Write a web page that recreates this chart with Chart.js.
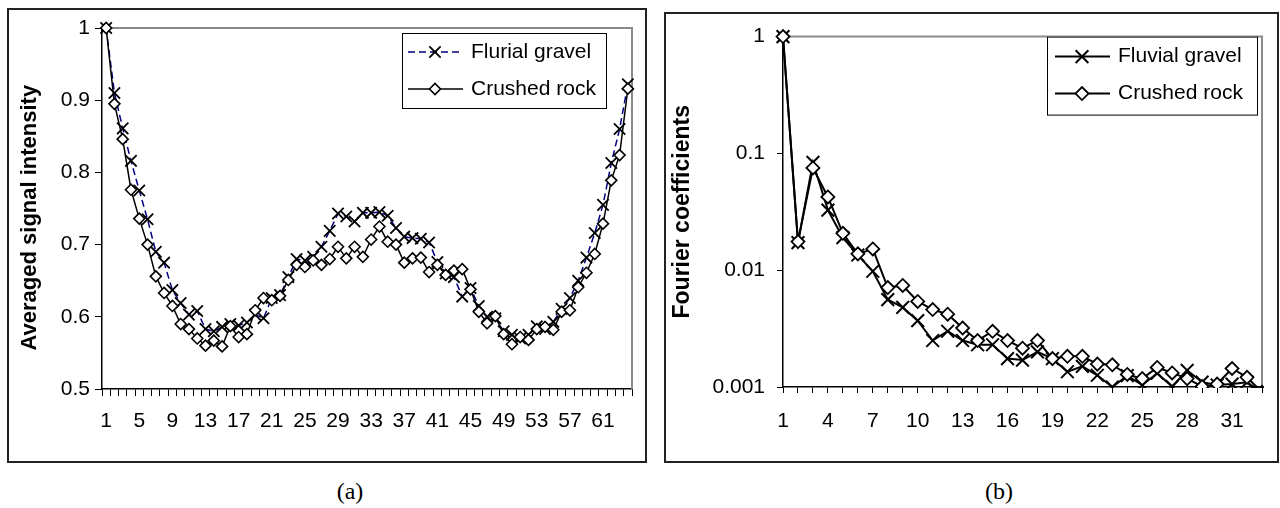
<!DOCTYPE html>
<html>
<head>
<meta charset="utf-8">
<title>Averaged signal intensity and Fourier coefficients</title>
<script src="https://cdn.jsdelivr.net/npm/chart.js@4.4.0/dist/chart.umd.min.js"></script>
<style>
  html, body { margin: 0; padding: 0; background: #fff; }
  body { width: 1280px; height: 508px; position: relative; overflow: hidden; }
  .frame { position: absolute; border: 2px solid #222; box-sizing: border-box; }
  .holder { position: absolute; }
  .caption { position: absolute; font-family: 'Liberation Serif', 'Times New Roman', serif; font-size: 24px; color: #000; transform: translateX(-50%); }
</style>
</head>
<body>
<div class="frame" style="left:7px;top:8px;width:640px;height:455px;"></div>
<div class="holder" style="left:7px;top:8px;width:638px;height:454px;"><canvas id="chartA"></canvas></div>
<div class="caption" style="left:350px;top:478px;">(a)</div>

<div class="frame" style="left:664px;top:12px;width:615px;height:451px;"></div>
<div class="holder" style="left:664px;top:12px;width:614px;height:450px;"><canvas id="chartB"></canvas></div>
<div class="caption" style="left:999px;top:478px;">(b)</div>

<script>
'use strict';
//****************************
// DATA
//****************************
// (a) averaged signal intensity, 64 samples
var signalCats = Array.from({ length: 64 }, function (v, i) { return String(i + 1); });
var fluvialSignal = [
  1.000, 0.910, 0.861, 0.816, 0.775, 0.735, 0.690, 0.675, 0.637, 0.619,
  0.603, 0.608, 0.583, 0.580, 0.586, 0.590, 0.588, 0.592, 0.603, 0.598,
  0.626, 0.630, 0.655, 0.680, 0.678, 0.683, 0.697, 0.719, 0.743, 0.739,
  0.732, 0.744, 0.744, 0.745, 0.740, 0.723, 0.711, 0.709, 0.708, 0.703,
  0.676, 0.660, 0.655, 0.628, 0.640, 0.615, 0.600, 0.598, 0.580, 0.575,
  0.570, 0.575, 0.587, 0.583, 0.593, 0.611, 0.626, 0.650, 0.682, 0.716,
  0.755, 0.813, 0.860, 0.922
];
var crushedSignal = [
  1.000, 0.895, 0.846, 0.776, 0.736, 0.700, 0.656, 0.633, 0.615, 0.590,
  0.583, 0.570, 0.560, 0.567, 0.559, 0.587, 0.572, 0.576, 0.609, 0.626,
  0.623, 0.629, 0.651, 0.672, 0.669, 0.678, 0.672, 0.680, 0.697, 0.681,
  0.697, 0.683, 0.707, 0.725, 0.704, 0.700, 0.675, 0.681, 0.682, 0.662,
  0.672, 0.658, 0.664, 0.666, 0.638, 0.607, 0.591, 0.601, 0.576, 0.562,
  0.572, 0.568, 0.583, 0.586, 0.582, 0.607, 0.609, 0.641, 0.661, 0.687,
  0.729, 0.789, 0.824, 0.916
];
var signalTicks = [0.5, 0.6, 0.7, 0.8, 0.9, 1];

// (b) Fourier coefficients, 33 harmonics
var fourierCats = Array.from({ length: 33 }, function (v, i) { return String(i + 1); });
var fluvialFourier = [
  1, 0.0172, 0.0839, 0.0327, 0.0190, 0.0135, 0.0098, 0.0056, 0.0048, 0.0037,
  0.0025, 0.0030, 0.0025, 0.0023, 0.0023, 0.00175, 0.0017, 0.0020, 0.00175, 0.00135,
  0.0015, 0.00126, 0.0010, 0.00125, 0.00104, 0.00131, 0.00101, 0.00139, 0.0011, 0.00104,
  0.00106, 0.0011, 0.0009
];
var crushedFourier = [
  1, 0.0176, 0.0751, 0.0424, 0.0207, 0.0138, 0.0152, 0.0071, 0.0074, 0.0054,
  0.0046, 0.0042, 0.0032, 0.0025, 0.0030, 0.0025, 0.00215, 0.0025, 0.00175, 0.00183,
  0.00183, 0.00157, 0.00155, 0.00128, 0.00118, 0.00147, 0.00132, 0.00118, 0.00101, 0.00106,
  0.00144, 0.00121, 0.0009
];
var fourierTicks = [0.001, 0.01, 0.1, 1];

//****************************
// SETUP
//****************************
Chart.defaults.font.family = "'Liberation Sans', Arial, sans-serif";
Chart.defaults.color = '#000';

// grey frame on top and right of the plot area
var plotFrame = {
  id: 'plotFrame',
  beforeDatasetsDraw: function (chart) {
    var a = chart.chartArea;
    var ctx = chart.ctx;
    ctx.save();
    ctx.strokeStyle = '#8a8a8a';
    ctx.lineWidth = 2;
    ctx.beginPath();
    ctx.moveTo(a.left, a.top);
    ctx.lineTo(a.right, a.top);
    ctx.lineTo(a.right, a.bottom);
    ctx.stroke();
    ctx.restore();
  }
};

// boxed legend sitting inside the plot
var boxLegend = {
  id: 'boxLegend',
  afterDatasetsDraw: function (chart, args, opts) {
    var a = chart.chartArea;
    var ctx = chart.ctx;
    var x = a.right - opts.right - opts.width;
    var y = a.top + opts.top;
    ctx.save();
    ctx.fillStyle = '#fff';
    ctx.fillRect(x, y, opts.width, opts.height);
    ctx.strokeStyle = '#000';
    ctx.lineWidth = 1;
    ctx.strokeRect(x + 0.5, y + 0.5, opts.width, opts.height);
    for (var i = 0; i < opts.items.length; i++) {
      var ds = chart.data.datasets[opts.items[i]];
      var cy = y + opts.rows[i];
      ctx.strokeStyle = ds.borderColor;
      ctx.lineWidth = ds.borderWidth;
      ctx.setLineDash(ds.borderDash || []);
      ctx.beginPath();
      ctx.moveTo(x + opts.lineX0, cy);
      ctx.lineTo(x + opts.lineX1, cy);
      ctx.stroke();
      ctx.setLineDash([]);
      ctx.fillStyle = ds.pointBackgroundColor;
      ctx.strokeStyle = ds.pointBorderColor;
      ctx.lineWidth = ds.pointBorderWidth;
      Chart.helpers.drawPoint(ctx, {
        pointStyle: ds.pointStyle, radius: ds.pointRadius, rotation: 0, borderWidth: ds.pointBorderWidth
      }, x + opts.markX, cy);
      ctx.fillStyle = '#000';
      ctx.font = opts.font;
      ctx.textBaseline = 'middle';
      ctx.textAlign = 'left';
      ctx.fillText(ds.label, x + opts.textX, cy);
    }
    ctx.restore();
  }
};

function everyNth(n) {
  return function (val, index) {
    return index % n === 0 ? this.getLabelForValue(val) : '';
  };
}

function plainNumber(v) {
  return String(v);
}

//****************************
// CHART (a)
//****************************
new Chart(document.getElementById('chartA'), {
  type: 'line',
  data: {
    labels: signalCats,
    datasets: [{
      label: 'Crushed rock',
      data: crushedSignal,
      order: 0,
      borderColor: '#000',
      borderWidth: 1.5,
      pointStyle: 'rectRot',
      pointRadius: 5.5,
      pointBackgroundColor: '#fff',
      pointBorderColor: '#000',
      pointBorderWidth: 1.6,
      clip: false
    }, {
      label: 'Flurial gravel',
      data: fluvialSignal,
      order: 1,
      borderColor: '#000080',
      borderWidth: 1.5,
      borderDash: [7, 4],
      pointStyle: 'crossRot',
      pointRadius: 8,
      pointBackgroundColor: '#000',
      pointBorderColor: '#000',
      pointBorderWidth: 1.8,
      clip: false
    }]
  },
  options: {
    responsive: true,
    maintainAspectRatio: false,
    animation: false,
    events: [],
    layout: { padding: { top: 20, right: 13, left: 0, bottom: 0 } },
    plugins: {
      legend: { display: false },
      tooltip: { enabled: false },
      boxLegend: {
        items: [1, 0], right: 26, top: 5, width: 204, height: 75,
        rows: [19, 56], lineX0: 6, lineX1: 61, markX: 33, textX: 69,
        font: "21px 'Liberation Sans', Arial, sans-serif"
      }
    },
    scales: {
      x: {
        offset: true,
        afterFit: function (s) { s.height = 73; },
        grid: { offset: true, drawOnChartArea: false, drawTicks: true, tickLength: 7, tickColor: '#000', lineWidth: 1 },
        border: { color: '#000', width: 1.5 },
        ticks: { autoSkip: false, maxRotation: 0, minRotation: 0, padding: 13, font: { size: 21 }, callback: everyNth(4) }
      },
      y: {
        min: 0.5,
        max: 1,
        afterFit: function (s) { s.width = 95; },
        afterBuildTicks: function (s) { s.ticks = signalTicks.map(function (v) { return { value: v }; }); },
        grid: { drawOnChartArea: false, drawTicks: true, tickLength: 7, tickColor: '#000' },
        border: { color: '#000', width: 1.5 },
        ticks: { padding: 5, font: { size: 21 }, callback: plainNumber },
        title: {
          display: true,
          text: 'Averaged signal intensity\u00a0\u00a0\u00a0',
          font: { size: 22, weight: 'bold' },
          padding: { top: 10, bottom: 0 }
        }
      }
    }
  },
  plugins: [plotFrame, boxLegend]
});

//****************************
// CHART (b)
//****************************
new Chart(document.getElementById('chartB'), {
  type: 'line',
  data: {
    labels: fourierCats,
    datasets: [{
      label: 'Crushed rock',
      data: crushedFourier,
      order: 0,
      borderColor: '#000',
      borderWidth: 2,
      pointStyle: 'rectRot',
      pointRadius: 6.5,
      pointBackgroundColor: '#fff',
      pointBorderColor: '#000',
      pointBorderWidth: 1.8,
      clip: { left: 12, top: 12, right: 2, bottom: 1 }
    }, {
      label: 'Fluvial gravel',
      data: fluvialFourier,
      order: 1,
      borderColor: '#000',
      borderWidth: 2,
      pointStyle: 'crossRot',
      pointRadius: 9,
      pointBackgroundColor: '#000',
      pointBorderColor: '#000',
      pointBorderWidth: 2,
      clip: { left: 12, top: 12, right: 2, bottom: 1 }
    }]
  },
  options: {
    responsive: true,
    maintainAspectRatio: false,
    animation: false,
    events: [],
    layout: { padding: { top: 21, right: 11, left: 0, bottom: 0 } },
    plugins: {
      legend: { display: false },
      tooltip: { enabled: false },
      boxLegend: {
        items: [1, 0], right: 5, top: 0, width: 210, height: 78,
        rows: [20, 57], lineX0: 8, lineX1: 63, markX: 35, textX: 71,
        font: "21px 'Liberation Sans', Arial, sans-serif"
      }
    },
    scales: {
      x: {
        offset: false,
        afterFit: function (s) { s.height = 75; },
        grid: { offset: false, drawOnChartArea: false, drawTicks: true, tickLength: 6, tickColor: '#000', lineWidth: 1 },
        border: { color: '#000', width: 1.5 },
        ticks: { autoSkip: false, maxRotation: 0, minRotation: 0, padding: 16, font: { size: 21 }, callback: everyNth(3) }
      },
      y: {
        type: 'logarithmic',
        min: 0.001,
        max: 1,
        afterFit: function (s) { s.width = 119; },
        afterBuildTicks: function (s) { s.ticks = fourierTicks.map(function (v) { return { value: v }; }); },
        grid: { drawOnChartArea: false, drawTicks: true, tickLength: 6, tickColor: '#000' },
        border: { color: '#000', width: 1.5 },
        ticks: { padding: 12, font: { size: 21 }, callback: plainNumber },
        title: { display: true, text: 'Fourier coefficients', font: { size: 23, weight: 'bold' }, padding: { top: 5, bottom: 0 } }
      }
    }
  },
  plugins: [plotFrame, boxLegend]
});
</script>
</body>
</html>
